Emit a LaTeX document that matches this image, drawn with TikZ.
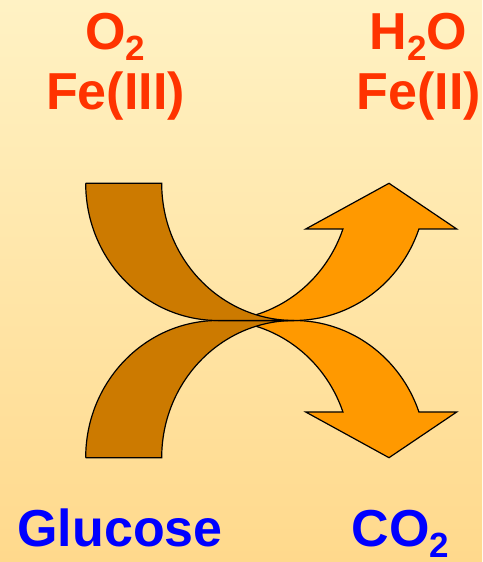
\documentclass[tikz,border=0pt]{standalone}
\usepackage{fontspec}
\setmainfont{Liberation Sans}
\usepackage{xcolor}

\definecolor{tailbrown}{HTML}{CC7A00}
\definecolor{bodyorange}{HTML}{FF9900}
\definecolor{labelred}{HTML}{FF3300}
\definecolor{labelblue}{HTML}{0000FF}
\definecolor{bgtop}{HTML}{FFF2C4}
\definecolor{bgbottom}{HTML}{FFD98C}

\newcommand{\chemsub}[1]{\raisebox{-11pt}{\fontsize{35}{35}\selectfont #1}}

\begin{document}
\begin{tikzpicture}[x=1pt, y=1pt,
        redtext/.style={inner sep=0pt, anchor=base, text=labelred, font=\fontsize{52}{60}\selectfont\bfseries},
        bluetext/.style={inner sep=0pt, anchor=base, text=labelblue, font=\fontsize{52}{60}\selectfont\bfseries},
        tail/.style={fill=tailbrown, draw=black, line width=1.2pt, x radius=132.4, y radius=137.2},
        body/.style={fill=bodyorange, draw=black, line width=1.2pt, x radius=132.4, y radius=137.2}
    ]

    % Background
    \fill[top color=bgtop, bottom color=bgbottom] (0,0) rectangle (482,562);
    \useasboundingbox (0,0) rectangle (482,562);

    % Lower arrow: Glucose -> CO2
    \draw[body] (218.1,241.5) arc[start angle=90, end angle=19.46]
        -- (305.7,150) -- (389,104.3) -- (456.7,150) -- (418.93,150)
        arc[start angle=19.46, end angle=90] -- cycle;
    \draw[tail] (85.7,104.3) -- (161.7,104.3) arc[start angle=180, end angle=90]
        -- (218.1,241.5) arc[start angle=90, end angle=180] -- cycle;

    % Upper arrow: O2 -> H2O
    \draw[body] (218.1,241.5) arc[start angle=270, end angle=340.54]
        -- (305.7,333) -- (389,378.7) -- (456.7,333) -- (418.93,333)
        arc[start angle=340.54, end angle=270] -- cycle;
    \draw[tail] (85.7,378.7) -- (161.7,378.7) arc[start angle=180, end angle=270]
        -- (218.1,241.5) arc[start angle=270, end angle=180] -- cycle;

    % Labels
    \node[redtext] (o2) at (115.5,512.5) {O\chemsub{2}};
    \node[redtext] (fe3) at (115.5,452) {Fe(III)};
    \node[redtext] (h2o) at (418.5,512.5) {H\chemsub{2}O};
    \node[redtext] (fe2) at (419,452) {Fe(II)};
    \node[bluetext] (glucose) at (120,16) {Glucose};
    \node[bluetext] (co2) at (400.5,16) {CO\chemsub{2}};
\end{tikzpicture}
\end{document}
